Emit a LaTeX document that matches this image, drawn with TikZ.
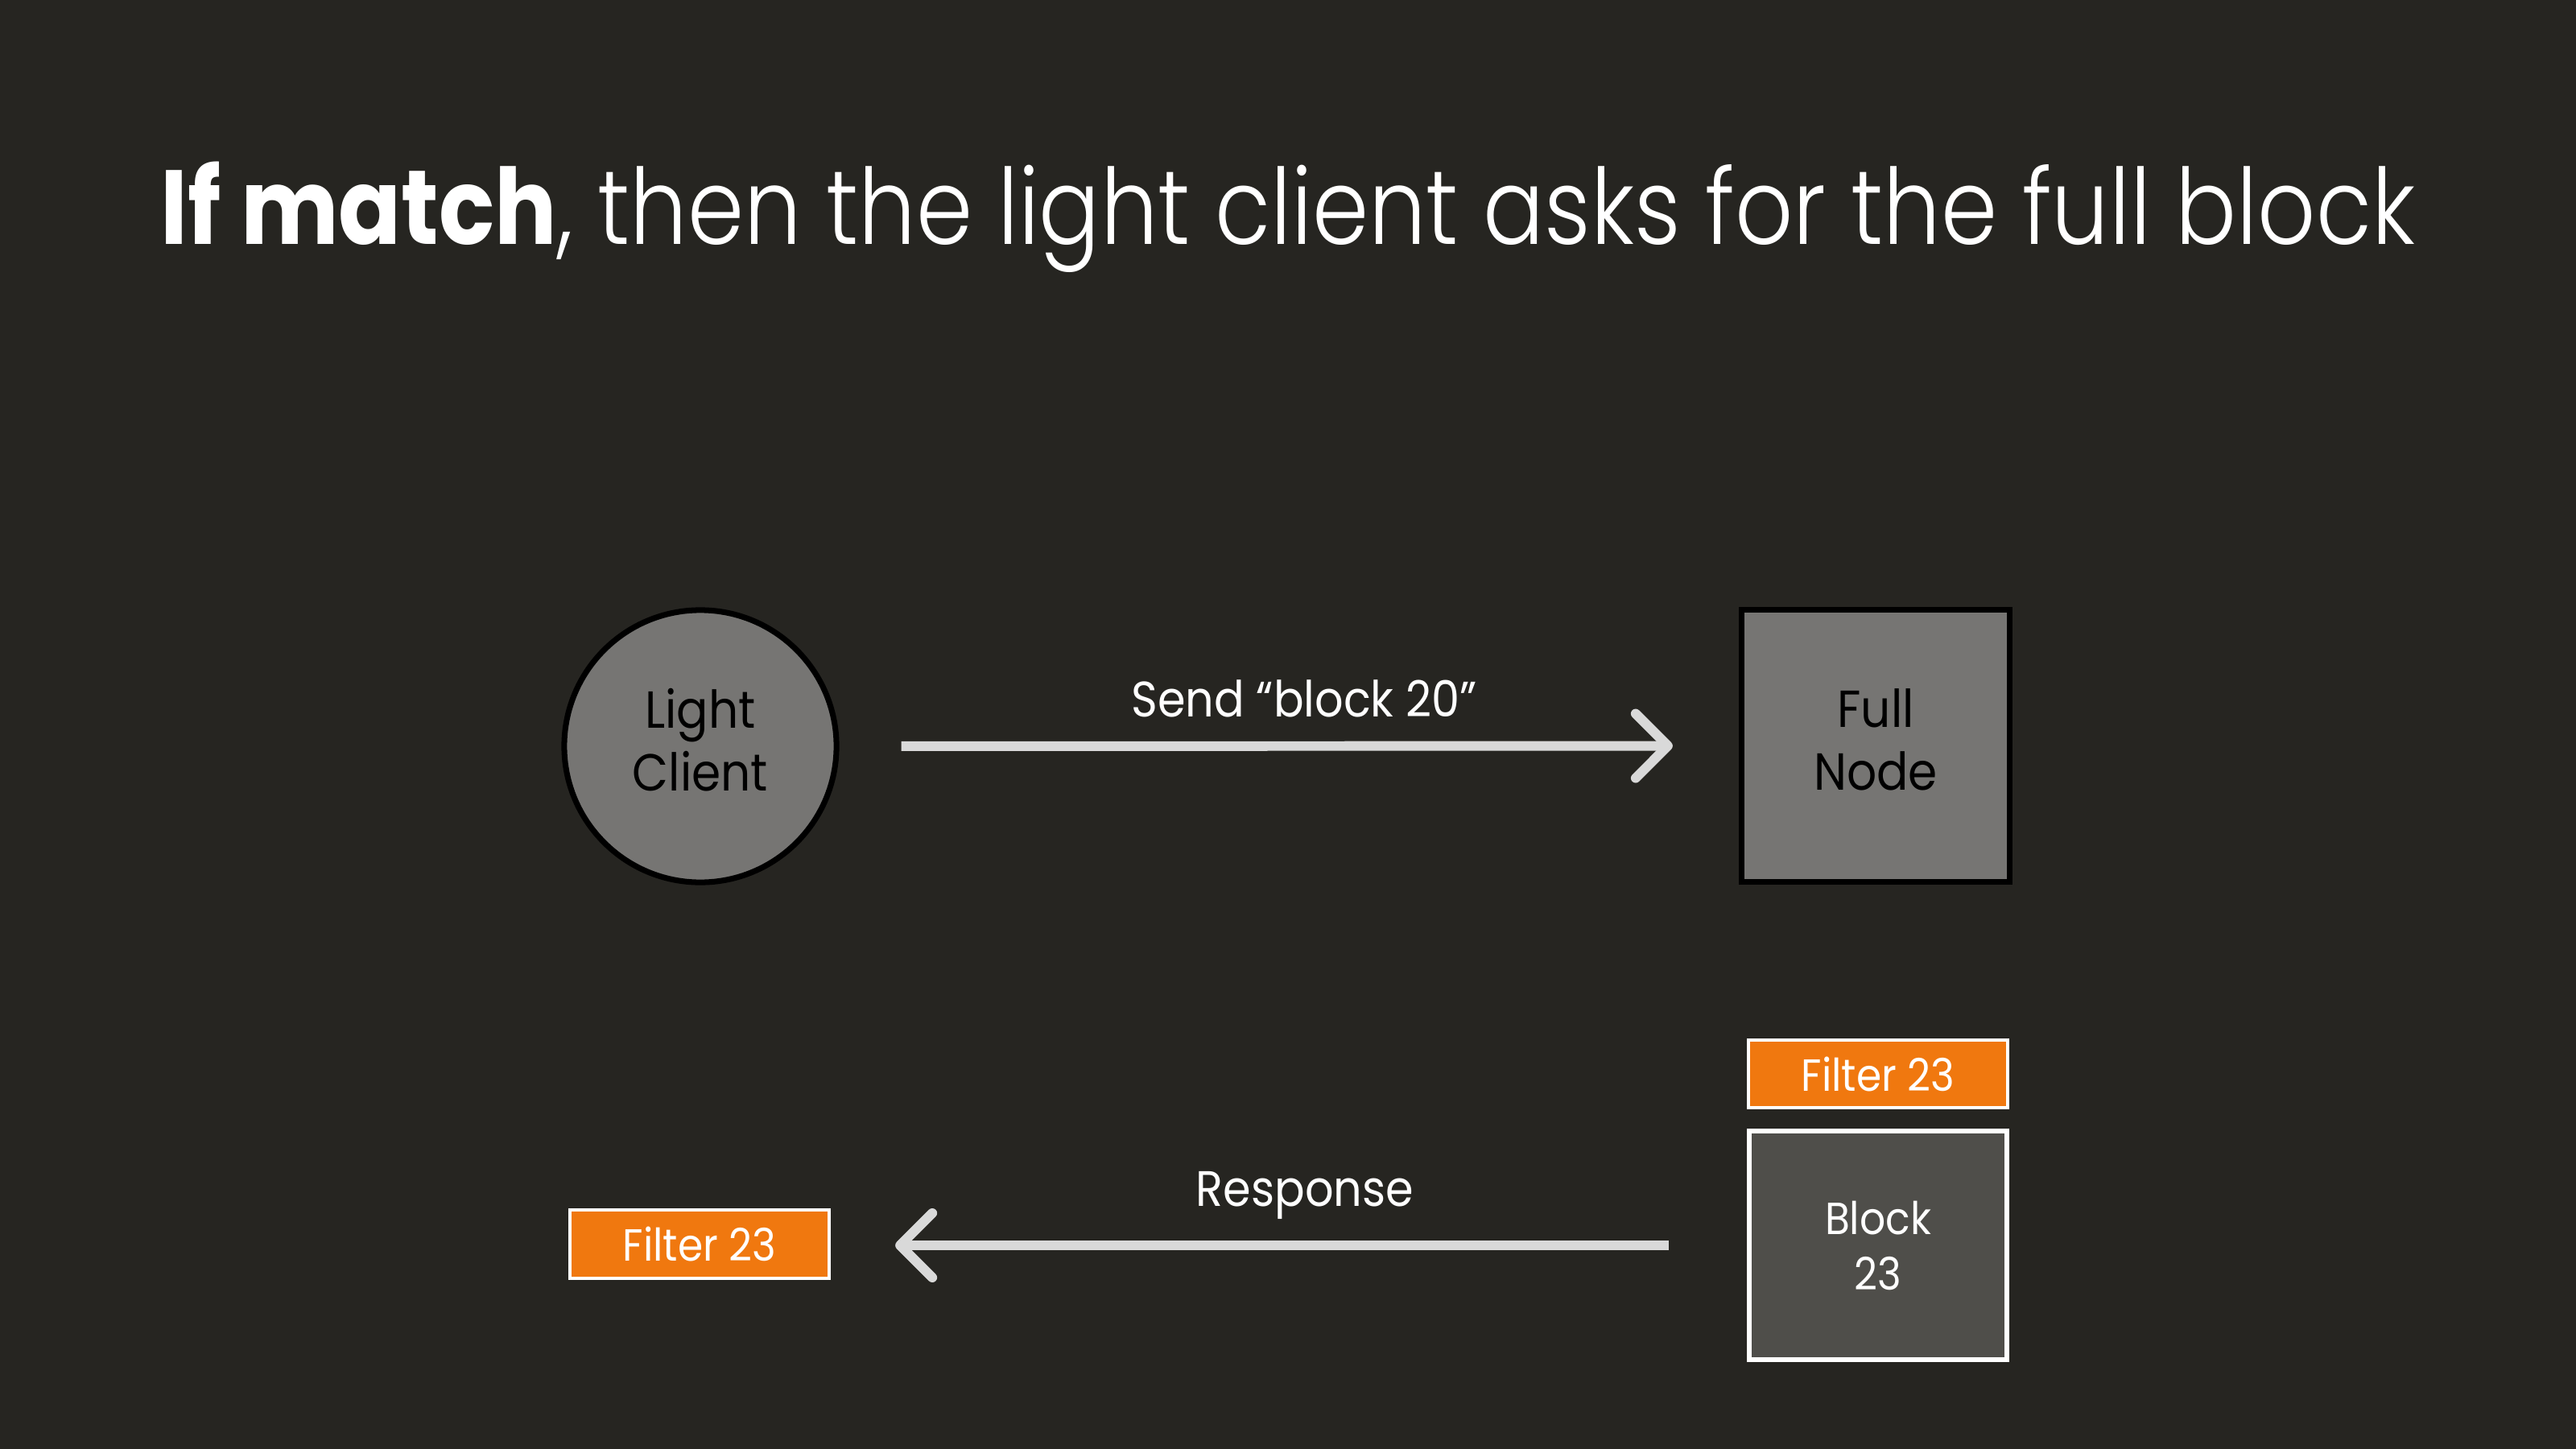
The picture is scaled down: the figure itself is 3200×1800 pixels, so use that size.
\documentclass[tikz,border=0pt]{standalone}
\usepackage{fontspec}
\setmainfont{Poppins}[FakeStretch=0.9]
\newfontfamily\lighttitle{Poppins Light}[FakeStretch=0.862]
\newfontfamily\boldtitle{Poppins Bold}[FakeStretch=0.878]
\usetikzlibrary{arrows.meta}

\definecolor{slide}{HTML}{262521}
\definecolor{peer}{HTML}{767573}
\definecolor{blockfill}{HTML}{4F4E4A}
\definecolor{filterfill}{HTML}{F0780F}
\definecolor{wire}{HTML}{D9D9D9}

\begin{document}
\begin{tikzpicture}[x=0.01cm, y=-0.01cm,
  peerfont/.style={font=\fontsize{18.4}{22.2}\selectfont},
  boxfont/.style={font=\fontsize{15.9}{19.6}\selectfont},
  lblfont/.style={font=\fontsize{17.6}{21}\selectfont},
  peernode/.style={draw=black, line width=2pt, fill=peer, text=black,
    inner sep=0pt, align=center, text depth=0.16cm, peerfont},
  filterbox/.style={rectangle, draw=white, line width=1.14pt, fill=filterfill,
    text=white, inner sep=0pt, minimum width=3.22cm, minimum height=0.84cm, boxfont},
  blockbox/.style={rectangle, draw=white, line width=1.7pt, fill=blockfill,
    text=white, inner sep=0pt, align=center, minimum width=3.20cm,
    minimum height=2.84cm, boxfont},
  flow/.style={draw=wire, line width=3.4pt,
    -{Straight Barb[length=4mm, width=8mm, round]}},
  msg/.style={text=white, anchor=base, inner sep=0pt, lblfont}]

  % slide background and page frame
  \fill[slide] (0,0) rectangle (3200,1800);
  \useasboundingbox (0,0) rectangle (3200,1800);

  % heading
  \node (title) [text=white, anchor=base, inner sep=0pt,
    font=\fontsize{37.2}{44}\selectfont] at (1600,304)
    {{\boldtitle If match}{\lighttitle, then the light client asks for the full block}};

  % the two peers
  \node (lc) [peernode, circle, minimum size=3.38cm] at (870,927) {Light\\Client};
  \node (fn) [peernode, rectangle, minimum width=3.33cm, minimum height=3.38cm]
    at (2330,926.5) {Full\\Node};

  % request
  \draw[flow, shorten <=0.77cm, shorten >=0.82cm] (lc.east) -- (fn.west);
  \node (sendlbl) [msg] at (1620,890) {Send “block 20”};

  % what the full node holds
  \node (ftop) [filterbox] at (2333,1334) {Filter 23};
  \node (blk) [blockbox] at (2333,1547) {Block\\23};

  % what the light client already has
  \node (fleft) [filterbox] at (869,1545.5) {Filter 23};

  % response
  \draw[flow, shorten <=0.97cm, shorten >=0.80cm] (blk.west) -- (fleft.east |- blk.west);
  \node (resplbl) [msg] at (1621,1498) {Response};
\end{tikzpicture}
\end{document}
